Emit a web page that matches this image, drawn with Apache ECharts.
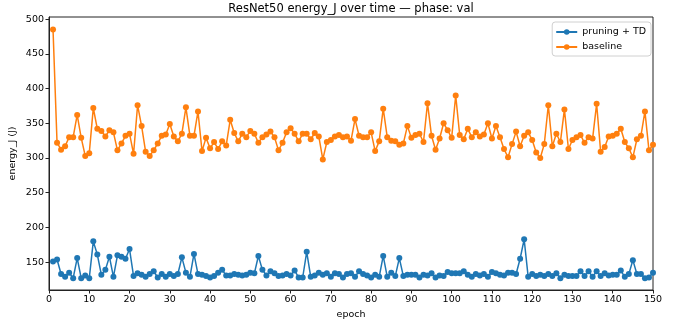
<!DOCTYPE html>
<html>
<head>
<meta charset="utf-8">
<script src="https://cdn.jsdelivr.net/npm/echarts@6/dist/echarts.min.js"></script>
<style>html,body{margin:0;padding:0;background:#fff}#c{width:673px;height:323px}</style>
</head>
<body>
<div id="c"></div>
<script>
const epochs = Array.from({length: 150}, (_, i) => i + 1);
const pruningTD = [
151,154,133,129,135,127,156,127,131,127,
180,161,132,139,158,129,160,158,155,169,
130,134,132,129,133,137,128,133,129,133,
130,133,157,135,129,162,133,132,130,128,
130,135,139,131,131,133,132,131,132,135,
134,159,139,131,137,134,130,131,133,131,
138,128,128,165,129,131,135,132,134,129,
134,133,128,133,134,129,137,133,131,128,
132,129,159,129,135,130,156,130,132,132,
132,128,132,131,134,128,131,130,136,134,
134,134,137,132,129,133,131,133,129,136,
134,132,131,135,135,133,155,183,129,133,
130,132,130,133,130,134,127,132,130,130,
130,137,130,137,129,137,130,134,131,132,
132,138,129,133,153,133,133,127,128,135
];
const baseline = [
485,322,312,317,330,330,362,329,303,307,
372,342,339,331,340,337,311,321,332,335,
306,376,346,309,303,311,321,332,334,349,
331,324,335,373,332,332,367,310,329,314,
323,313,324,318,355,336,324,335,330,339,
335,322,330,334,338,330,311,322,337,343,
335,324,335,335,327,336,331,298,323,326,
331,333,330,331,325,356,332,330,330,337,
310,324,371,330,325,324,319,321,346,329,
333,335,323,379,332,312,328,350,340,329,
390,333,327,342,330,337,331,334,350,328,
346,330,313,301,320,338,317,332,337,326,
308,300,320,376,317,335,323,370,313,326,
330,333,322,330,328,378,309,316,331,332,
335,342,323,314,301,327,332,367,311,319
];
const yTicks = [150,200,250,300,350,400,450,500];

const chart = echarts.init(document.getElementById('c'), null, {renderer: 'canvas'});
const font = 'DejaVu Sans';
chart.setOption({
  animation: false,
  backgroundColor: '#fff',
  textStyle: {fontFamily: font},
  title: {
    text: 'ResNet50 energy_J over time — phase: val',
    left: 351, top: 3, padding: 0, textAlign: 'center',
    textStyle: {fontFamily: font, fontSize: 11.5, fontWeight: 'normal', color: '#000'}
  },
  legend: {
    right: 22, top: 22, orient: 'vertical',
    itemWidth: 21, itemHeight: 7, itemGap: 5,
    padding: [5, 5, 4, 3],
    borderColor: '#d0d0d0', borderWidth: 1, borderRadius: 3,
    backgroundColor: 'rgba(255,255,255,0.8)',
    textStyle: {fontFamily: font, fontSize: 9.5, color: '#000'},
    data: ['pruning + TD', 'baseline']
  },
  grid: {
    left: 49, right: 20, top: 17, bottom: 33,
    outerBoundsMode: 'none', containLabel: false,
    show: true, borderColor: '#222', borderWidth: 1, backgroundColor: 'transparent'
  },
  xAxis: {
    type: 'value', min: 0, max: 150, interval: 10,
    name: 'epoch', nameLocation: 'middle', nameGap: 19,
    nameTextStyle: {fontFamily: font, fontSize: 9.5, color: '#000'},
    axisLine: {show: true, lineStyle: {color: '#222', width: 1}},
    axisTick: {show: true, length: 3.5, lineStyle: {color: '#222'}},
    axisLabel: {fontFamily: font, fontSize: 9.5, color: '#000', margin: 5},
    splitLine: {show: false}
  },
  yAxis: {
    type: 'value', min: 110, max: 503,
    name: 'energy_J (J)', nameLocation: 'middle', nameGap: 31, nameMoveOverlap: false,
    nameTextStyle: {fontFamily: font, fontSize: 9.5, color: '#000'},
    axisLine: {show: true, lineStyle: {color: '#222', width: 1}},
    axisTick: {show: true, length: 3.5, lineStyle: {color: '#222'}, customValues: yTicks},
    axisLabel: {fontFamily: font, fontSize: 9.5, color: '#000', margin: 5, customValues: yTicks},
    splitLine: {show: false}
  },
  series: [
    {
      name: 'pruning + TD', type: 'line',
      data: epochs.map((e, i) => [e, pruningTD[i]]),
      symbol: 'circle', symbolSize: 6, showSymbol: true,
      itemStyle: {color: '#1f77b4'},
      lineStyle: {color: '#1f77b4', width: 1.5}
    },
    {
      name: 'baseline', type: 'line',
      data: epochs.map((e, i) => [e, baseline[i]]),
      symbol: 'circle', symbolSize: 6, showSymbol: true,
      itemStyle: {color: '#ff7f0e'},
      lineStyle: {color: '#ff7f0e', width: 1.5}
    }
  ]
});
</script>
</body>
</html>
